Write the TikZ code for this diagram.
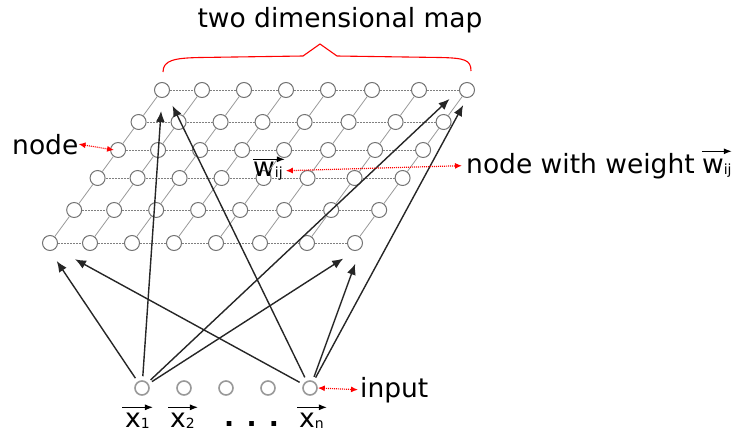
\documentclass[tikz,border=0pt]{standalone}
\usepackage{fontspec}
\setmainfont{DejaVu Sans}
\usetikzlibrary{positioning,arrows.meta}
\newcommand{\lsub}[1]{\raisebox{-1pt}{\fontsize{14}{14}\selectfont #1}}
\tikzstyle{unit} = [circle,draw=black!55,fill=white,line width=1pt,minimum size=15pt,inner sep=0pt]
\tikzstyle{inp} = [circle,draw=black!40,fill=white,line width=1.6pt,minimum size=14pt,inner sep=0pt,node distance=26.4pt]
\tikzstyle{lbl} = [inner sep=0pt,anchor=base west,font=\fontsize{26.5}{30}\selectfont]
\tikzstyle{conn} = [-{Latex[length=11pt,width=9pt]},line width=1.4pt,black!85,shorten <=4pt]
\tikzstyle{redarr} = [{Latex[length=7pt,width=6pt]}-{Latex[length=7pt,width=6pt]},red,dash pattern=on 1pt off 1pt,line width=1.2pt]
\tikzstyle{vecarr} = [-{Latex[length=8pt,width=6pt]},line width=1.1pt]
\tikzstyle{hline} = [black!50,dash pattern=on 2pt off 1pt,line width=0.8pt]
\tikzstyle{dline} = [black!40,line width=0.8pt]

\begin{document}
\begin{tikzpicture}[x=1pt,y=-1pt]
\useasboundingbox (0,0) rectangle (737,432);

% Define nodes
\foreach \r/\y in {1/90,2/122,3/150,4/178,5/210,6/243}{
  \foreach \c/\x in {1/162,2/202,3/244,4/286,5/328,6/372,7/419,8/467}{
    \node[unit] (g\r\c) at ({\x-(\y-90)*0.732},\y) {};
  }
}
\node[inp]                 (x1) at (142,388) {};
\node[inp, right = of x1]  (x2) {};
\node[inp, right = of x2]  (x3) {};
\node[inp, right = of x3]  (x4) {};
\node[inp, right = of x4]  (xn) {};

\node[lbl, anchor=base]    (title) at (340,27) {two dimensional map};
\node[lbl]                 (nodel) at (12,154) {node};
\node[lbl]                 (wij)   at (253,176) {w\lsub{ij}};
\node[lbl]                 (nww)   at (466,173) {node with weight};
\node[lbl]                 (wr)    at ([xshift=7pt]nww.base east) {w\lsub{ij}};
\node[lbl]                 (inl)   at (360,397) {input};
\node[lbl]                 (lx1)   at (125,427) {x\lsub{1}};
\node[lbl]                 (lx2)   at (170,427) {x\lsub{2}};
\node[lbl]                 (ldots) at (224,426) {\textbf{. . .}};
\node[lbl]                 (lxn)   at (299,427) {x\lsub{n}};

% Grid
\foreach \r in {1,...,6}
  \foreach \c [count=\n from 2] in {1,...,7}
    \draw[hline] (g\r\c) -- (g\r\n);
\foreach \r [count=\n from 2] in {1,...,5}
  \foreach \c in {1,...,8}
    \draw[dline] (g\r\c) -- (g\n\c);

% Edges
\draw[conn, shorten >=12pt] (x1) -- (g61.south);
\draw[conn, shorten >=13pt] (x1) -- (g11.south);
\draw[conn, shorten >=13pt] (x1) -- (g18.west);
\draw[conn, shorten >=14pt] (x1) -- (g68.south);
\draw[conn, shorten >=22pt] (xn) -- (g61.south east);
\draw[conn, shorten >=11pt] (xn) -- (g11.south east);
\draw[conn, shorten >=16pt] (xn) -- (g68.south east);
\draw[conn, shorten >=8pt]  (xn) -- (g18.south);

% Labels
\draw[red, line width=1.1pt] (163,72) .. controls (163,60) and (175,58) .. (200,57.5)
  -- (303,56) -- (320,44) -- (337,56) -- (440,57.5) .. controls (465,58) and (471,60) .. (471,71);
\draw[redarr] (nodel.east) -- ([xshift=4pt]g31.west);
\draw[redarr] ([xshift=3pt]wij.east) -- ([xshift=-4pt]nww.west);
\draw[redarr] (xn.east) -- ([xshift=-2pt]inl.west);
\draw[vecarr] ([xshift=-3pt,yshift=5pt]lx1.north west) -- ([xshift=3pt,yshift=5pt]lx1.north east);
\draw[vecarr] ([xshift=-2pt,yshift=5pt]lx2.north west) -- ([xshift=3pt,yshift=5pt]lx2.north east);
\draw[vecarr] ([xshift=-2pt,yshift=5pt]lxn.north west) -- ([xshift=3pt,yshift=5pt]lxn.north east);
\draw[vecarr] ([yshift=2pt]wij.north west) -- ([xshift=2pt,yshift=2pt]wij.north east);
\draw[vecarr] ([yshift=7pt]wr.north west) -- ([yshift=7pt]wr.north east);
\end{tikzpicture}
\end{document}
